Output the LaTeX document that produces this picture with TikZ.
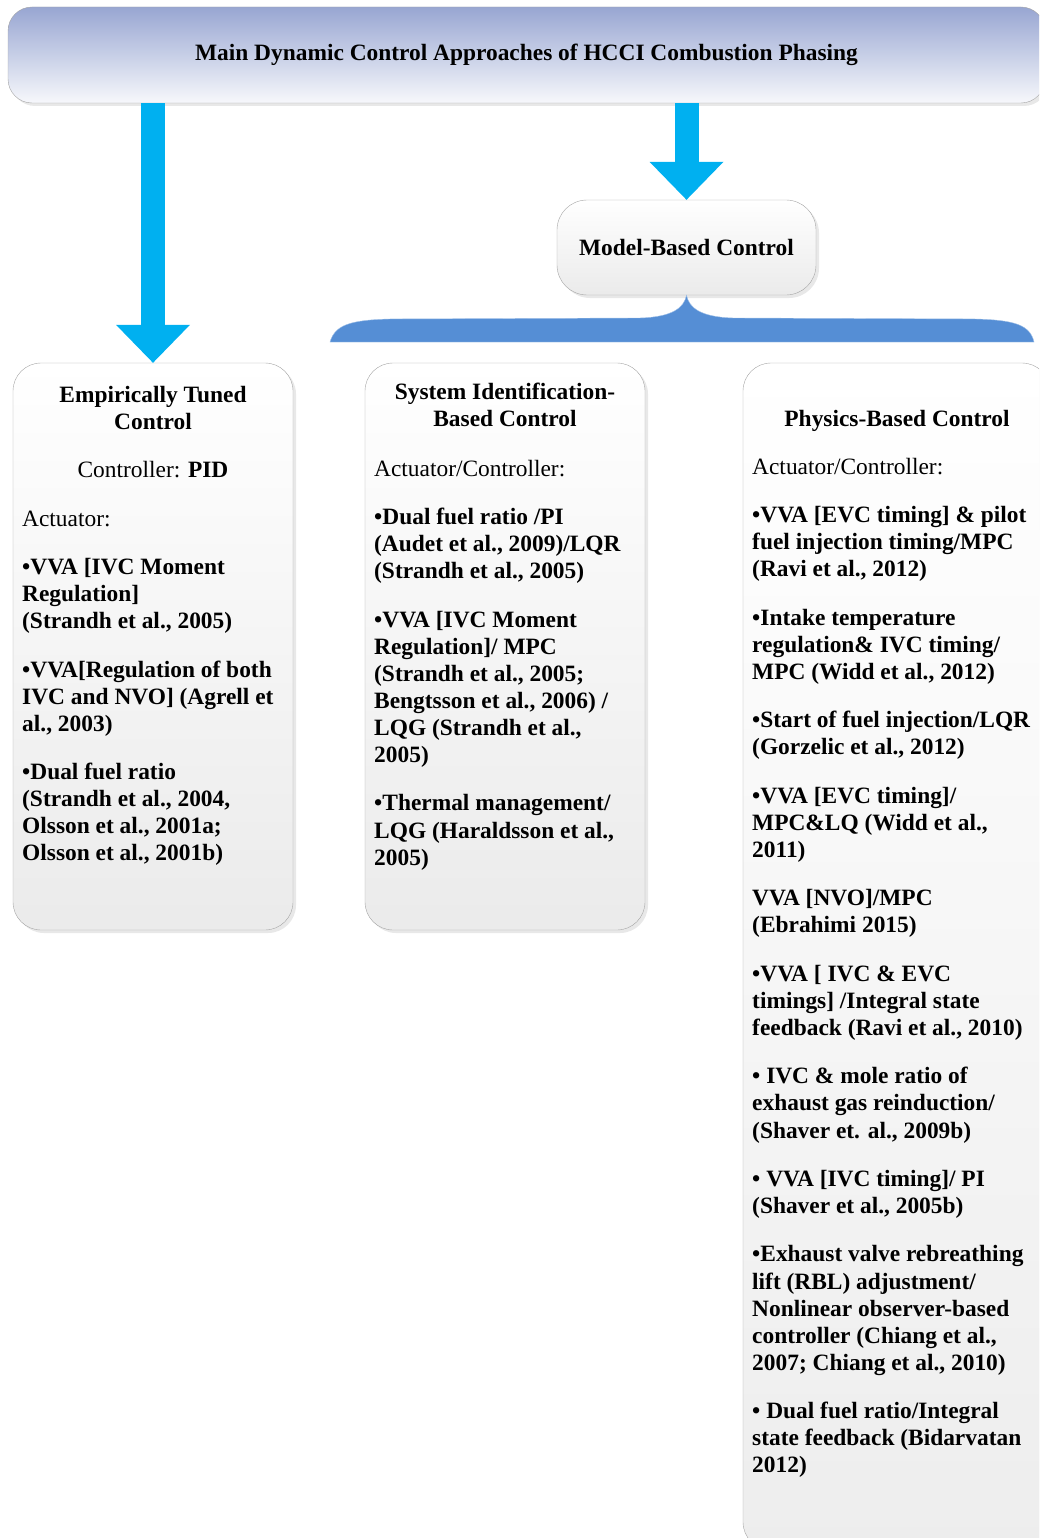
\documentclass[tikz,border=0pt]{standalone}
\usepackage{fontspec}
\setmainfont{Liberation Serif}
\usepackage{tikz}
\usetikzlibrary{arrows.meta, shadows}
\definecolor{pijlblauw}{RGB}{0,176,240}
\definecolor{accoladeblauw}{RGB}{85,142,213}
\definecolor{balkblauw}{RGB}{152,166,210}
\definecolor{randgrijs}{RGB}{165,165,165}
\newcommand{\tekst}{\fontsize{23.4}{27.1}\selectfont}
\tikzset{
  % De basis voor alle afgeronde blokken
  blok/.style={%
    draw=randgrijs,
    thin,
    rounded corners=28pt,
    top color=white,
    bottom color=black!8,
    drop shadow={shadow xshift=3pt, shadow yshift=-3pt, opacity=0.18},
    font=\bfseries\tekst
  },
  % Bovenste balk met blauwe kleurverloop
  kop/.style={blok, rounded corners=24pt, top color=balkblauw, bottom color=balkblauw!8},
  kolom/.style={blok, inner sep=0pt},
  % Teksten in de kolommen
  titel/.style={font=\bfseries\tekst, text width=270pt, align=flush center, anchor=base, inner sep=0pt},
  midden/.style={titel, font=\tekst},
  lijst/.style={font=\tekst, text width=290pt, align=flush left, anchor=base west, inner sep=0pt},
  % Dikke pijlen en de accolade
  pijl/.style={pijlblauw, line width=24pt, -{Triangle[length=38pt, width=74pt, line width=0pt]}},
  accolade/.style={fill=accoladeblauw, draw=accoladeblauw!55!white, thin}
}

\begin{document}
\begin{tikzpicture}[x=1pt, y=-1pt]

  \useasboundingbox (0,0) rectangle (1039,1538);
  \clip (0,0) rectangle (1039,1538);

  % --- BLOKKEN ---

  \node [kop, minimum width=1037pt, minimum height=96pt] (main) at (526.5,55)
    {Main Dynamic Control Approaches of HCCI Combustion Phasing};

  \node [blok, minimum width=259pt, minimum height=95pt, rounded corners=30pt] (model) at (686.5,247.5)
    {Model-Based Control};

  \node [kolom, minimum width=280pt, minimum height=567pt] (empir) at (153,646.5) {};
  \node [kolom, minimum width=280pt, minimum height=567pt] (sysid) at (505,646.5) {};
  \node [kolom, minimum width=307pt, minimum height=1187pt, bottom color=black!7] (phys) at (896.5,956.5) {};

  % --- PIJLEN EN ACCOLADE ---

  \draw [pijl] (main.south -| empir.north) -- (empir.north);
  \draw [pijl] (main.south -| model.north) -- (model.north);

  \draw [accolade] (330,342) .. controls (335,325) and (350,320) .. (390,319)
    -- (640,318) .. controls (672,317) and (684,308) .. (model.south)
    .. controls (689,308) and (701,317) .. (733,318)
    -- (975,319) .. controls (1015,320) and (1030,325) .. (1034,342) -- cycle;

  % --- KOLOM 1 ---

  \node [titel] (empirtitel) at (153,402) {Empirically Tuned\\Control};
  \node [midden] (empirpid) at (153,477) {Controller: \textbf{PID}};
  \node [lijst] (empirlijst) at (22,526) {Actuator:\\[21.3pt]
    \bfseries\textbullet VVA [IVC Moment\\Regulation]\\(Strandh et al., 2005)\\[21.3pt]
    \textbullet VVA[Regulation of both\\IVC and NVO] (Agrell et\\al., 2003)\\[21.3pt]
    \textbullet Dual fuel ratio\\(Strandh et al., 2004,\\Olsson et al., 2001a;\\Olsson et al., 2001b)};

  % --- KOLOM 2 ---

  \node [titel] (sysidtitel) at (505,399) {System Identification-\\Based Control};
  \node [lijst] (sysidlijst) at (374,476) {Actuator/Controller:\\[21.3pt]
    \bfseries\textbullet Dual fuel ratio /PI\\(Audet et al., 2009)/LQR\\(Strandh et al., 2005)\\[21.3pt]
    \textbullet VVA [IVC Moment\\Regulation]/ MPC\\(Strandh et al., 2005;\\Bengtsson et al., 2006) /\\LQG (Strandh et al.,\\2005)\\[21.3pt]
    \textbullet Thermal management/\\LQG (Haraldsson et al.,\\2005)};

  % --- KOLOM 3 ---

  \node [titel] (phystitel) at (897,426) {Physics-Based Control};
  \node [lijst] (physlijst) at (752,474) {Actuator/Controller:\\[21.3pt]
    \bfseries\textbullet VVA [EVC timing] \& pilot\\fuel injection timing/MPC\\(Ravi et al., 2012)\\[21.3pt]
    \textbullet Intake temperature\\regulation\& IVC timing/\\MPC (Widd et al., 2012)\\[21.3pt]
    \textbullet Start of fuel injection/LQR\\(Gorzelic et al., 2012)\\[21.3pt]
    \textbullet VVA [EVC timing]/\\MPC\&LQ (Widd et al.,\\2011)\\[21.3pt]
    VVA [NVO]/MPC\\(Ebrahimi 2015)\\[21.3pt]
    \textbullet VVA [ IVC \& EVC\\timings] /Integral state\\feedback (Ravi et al., 2010)\\[21.3pt]
    \textbullet{} IVC \& mole ratio of\\exhaust gas reinduction/\\(Shaver et. al., 2009b)\\[21.3pt]
    \textbullet{} VVA [IVC timing]/ PI\\(Shaver et al., 2005b)\\[21.3pt]
    \textbullet Exhaust valve rebreathing\\lift (RBL) adjustment/\\Nonlinear observer-based\\controller (Chiang et al.,\\2007; Chiang et al., 2010)\\[21.3pt]
    \textbullet{} Dual fuel ratio/Integral\\state feedback (Bidarvatan\\2012)};

\end{tikzpicture}
\end{document}
